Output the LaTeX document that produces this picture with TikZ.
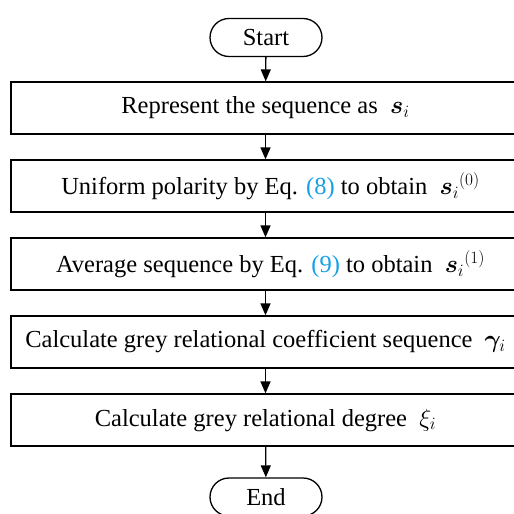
\documentclass[tikz,border=0pt]{standalone}
\usepackage{amsmath}
\usepackage{bm}
\usepackage{fontspec}
\setmainfont{Liberation Serif}
\usetikzlibrary{arrows.meta,positioning}
\definecolor{eqblue}{RGB}{20,160,230}
\newcommand{\eqnum}[1]{\textcolor{eqblue}{(#1)}}

\begin{document}
\begin{tikzpicture}[line width=1.3pt,font=\fontsize{24.5}{28}\selectfont,
  >={Triangle[width=10pt,length=12pt]},
  terminal/.style={draw,rounded corners=19pt,minimum width=112pt,minimum height=38pt,inner sep=0pt},
  process/.style={draw,minimum width=509pt,minimum height=52pt,inner sep=0pt}]
  \clip (0pt, 0pt) rectangle (514pt, -514pt);
  \draw (266.0pt, -37.5pt)node[terminal](start){Start};
  \draw (265.5pt, -108.0pt)node[process](1){Represent the sequence as \ $\bm{s}_i$};
  \draw (265.5pt, -186.0pt)node[process](2){\hspace{10pt}Uniform polarity by Eq. \eqnum{8} to obtain \ ${\bm{s}_i}^{(0)}$};
  \draw (265.5pt, -264.0pt)node[process](3){\hspace{10pt}Average sequence by Eq. \eqnum{9} to obtain \ ${\bm{s}_i}^{(1)}$};
  \draw (265.5pt, -342.0pt)node[process](4){Calculate grey relational coefficient sequence \ $\bm{\gamma}_i$};
  \draw (265.5pt, -420.0pt)node[process](5){Calculate grey relational degree \ $\xi_i$};
  \draw (266.0pt, -497.0pt)node[terminal](end){End};
  \path[->] (start) edge (1);
  \path[->] (1) edge (2);
  \path[->] (2) edge (3);
  \path[->] (3) edge (4);
  \path[->] (4) edge (5);
  \path[->] (5) edge (end);
\end{tikzpicture}
\end{document}
